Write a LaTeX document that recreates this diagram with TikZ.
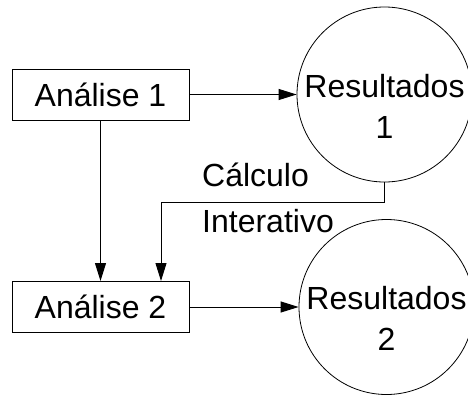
\documentclass[tikz,border=0pt]{standalone}
\usepackage{fontspec}
\setmainfont{Liberation Sans}
\usetikzlibrary{arrows.meta}
\begin{document}
\begin{tikzpicture}[x=1pt,y=-1pt,
  every node/.style={font=\fontsize{32}{41}\selectfont},
  proc/.style={draw, line width=1pt, minimum width=177pt, minimum height=51pt, inner sep=0pt},
  store/.style={draw, circle, line width=0.8pt, minimum size=175pt, inner sep=0pt},
  storetext/.style={align=center, inner sep=0pt},
  flow/.style={line width=1pt, -{Triangle[length=18pt,width=11pt]}},
]
\useasboundingbox (0,0) rectangle (468,396);

% processes
\node[proc] (A1) at (100.5,94.5) {Análise 1};
\node[proc] (A2) at (100.5,307) {Análise 2};

% result stores
\node[store] (R1) at (384.5,94.5) {};
\node[storetext] (R1t) at (384.5,106) {Resultados\\1};
\node[store] (R2) at (386.5,307) {};
\node[storetext] (R2t) at (386.5,318.5) {Resultados\\2};

% connectors
\draw[flow] (A1) -- (R1);
\draw[flow] (A2) -- (R2);
\draw[flow] (A1.south) -- (A2.north);
\coordinate (fb) at (161,202);
\draw[flow] (R1.south) |- (fb) -- (fb |- A2.north);

% loop label (base anchor sits on the last line)
\node[anchor=base west, align=left, inner sep=0pt,
      font=\fontsize{32}{46}\selectfont] (lbl) at (202,232) {Cálculo\\Interativo};
\end{tikzpicture}
\end{document}
